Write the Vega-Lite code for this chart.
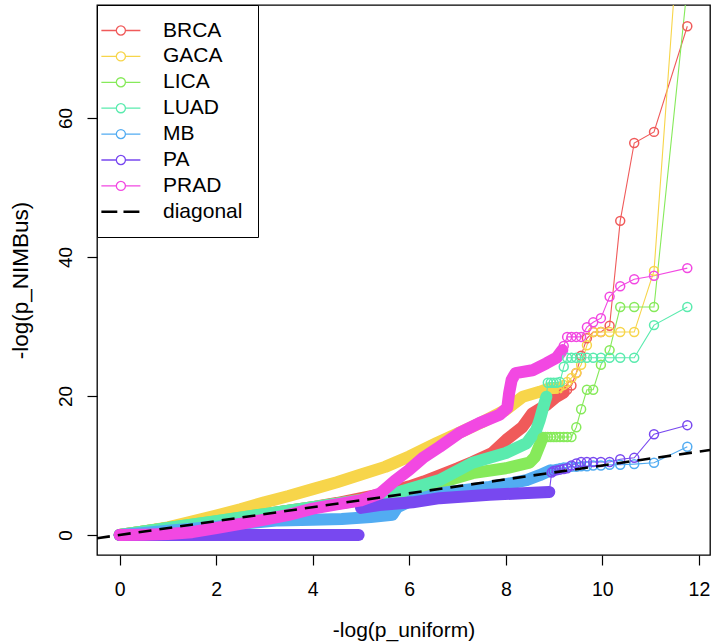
{
  "$schema": "https://vega.github.io/schema/vega-lite/v6.json",
  "width": 613,
  "height": 550,
  "autosize": {"type": "none"},
  "padding": {"left": 97, "top": 5, "right": 1, "bottom": 89},
  "background": "white",
  "config": {
    "font": "Liberation Sans",
    "view": {"stroke": "black", "strokeWidth": 1.3},
    "axis": {"grid": false, "domain": false, "tickColor": "black", "tickWidth": 1.2, "labelColor": "black", "titleColor": "black", "labelFont": "Liberation Sans", "titleFont": "Liberation Sans", "titleFontWeight": "normal", "labelFlush": false, "labelOverlap": false}
  },
  "datasets": {
    "band": [
      {"g": "BRCA", "run": 1, "x": 0, "y": 0}, {"g": "BRCA", "run": 1, "x": 0.5, "y": 0.5}, {"g": "BRCA", "run": 1, "x": 1, "y": 1}, {"g": "BRCA", "run": 1, "x": 1.5, "y": 1.5}, {"g": "BRCA", "run": 1, "x": 2, "y": 2}, {"g": "BRCA", "run": 1, "x": 2.5, "y": 2.5}, {"g": "BRCA", "run": 1, "x": 3, "y": 3}, {"g": "BRCA", "run": 1, "x": 3.5, "y": 3.5}, {"g": "BRCA", "run": 1, "x": 4, "y": 4}, {"g": "BRCA", "run": 1, "x": 4.5, "y": 4.6}, {"g": "BRCA", "run": 1, "x": 5, "y": 5.3}, {"g": "BRCA", "run": 1, "x": 5.5, "y": 6.0}, {"g": "BRCA", "run": 1, "x": 6, "y": 7.0}, {"g": "BRCA", "run": 1, "x": 6.3, "y": 7.7}, {"g": "BRCA", "run": 1, "x": 6.63, "y": 8.6}, {"g": "BRCA", "run": 1, "x": 7, "y": 9.6}, {"g": "BRCA", "run": 1, "x": 7.31, "y": 10.5}, {"g": "BRCA", "run": 1, "x": 7.72, "y": 11.8}, {"g": "BRCA", "run": 1, "x": 8.01, "y": 13.7}, {"g": "BRCA", "run": 1, "x": 8.34, "y": 15.5}, {"g": "BRCA", "run": 1, "x": 8.55, "y": 17.5}, {"g": "BRCA", "run": 1, "x": 8.84, "y": 18.7}, {"g": "BRCA", "run": 1, "x": 9.05, "y": 19.9}, {"g": "BRCA", "run": 1, "x": 9.2, "y": 20.5},
      {"g": "GACA", "run": 1, "x": 0, "y": 0}, {"g": "GACA", "run": 1, "x": 0.5, "y": 0.5}, {"g": "GACA", "run": 1, "x": 1, "y": 1.1}, {"g": "GACA", "run": 1, "x": 1.66, "y": 2.2}, {"g": "GACA", "run": 1, "x": 2, "y": 2.8}, {"g": "GACA", "run": 1, "x": 2.5, "y": 3.7}, {"g": "GACA", "run": 1, "x": 3, "y": 4.7}, {"g": "GACA", "run": 1, "x": 3.5, "y": 5.6}, {"g": "GACA", "run": 1, "x": 4, "y": 6.6}, {"g": "GACA", "run": 1, "x": 4.5, "y": 7.6}, {"g": "GACA", "run": 1, "x": 5, "y": 8.7}, {"g": "GACA", "run": 1, "x": 5.5, "y": 9.8}, {"g": "GACA", "run": 1, "x": 6, "y": 11.3}, {"g": "GACA", "run": 1, "x": 6.56, "y": 13.2}, {"g": "GACA", "run": 1, "x": 7, "y": 14.6}, {"g": "GACA", "run": 1, "x": 7.5, "y": 16.2}, {"g": "GACA", "run": 1, "x": 8, "y": 18.0}, {"g": "GACA", "run": 1, "x": 8.35, "y": 19.9}, {"g": "GACA", "run": 1, "x": 8.7, "y": 20.6}, {"g": "GACA", "run": 1, "x": 8.9, "y": 21.1}, {"g": "GACA", "run": 1, "x": 9.1, "y": 21.2},
      {"g": "LICA", "run": 1, "x": 0, "y": 0}, {"g": "LICA", "run": 1, "x": 1, "y": 1}, {"g": "LICA", "run": 1, "x": 2, "y": 2}, {"g": "LICA", "run": 1, "x": 3, "y": 3}, {"g": "LICA", "run": 1, "x": 4, "y": 4}, {"g": "LICA", "run": 1, "x": 4.5, "y": 4.5}, {"g": "LICA", "run": 1, "x": 5, "y": 5.1}, {"g": "LICA", "run": 1, "x": 5.5, "y": 5.7}, {"g": "LICA", "run": 1, "x": 6, "y": 6.5}, {"g": "LICA", "run": 1, "x": 6.63, "y": 7.5}, {"g": "LICA", "run": 1, "x": 7.31, "y": 8.9}, {"g": "LICA", "run": 1, "x": 8, "y": 9.6}, {"g": "LICA", "run": 1, "x": 8.49, "y": 10.4}, {"g": "LICA", "run": 1, "x": 8.6, "y": 11.2}, {"g": "LICA", "run": 1, "x": 8.7, "y": 12.9}, {"g": "LICA", "run": 1, "x": 8.76, "y": 14.0},
      {"g": "LUAD", "run": 1, "x": 0, "y": 0}, {"g": "LUAD", "run": 1, "x": 1, "y": 1}, {"g": "LUAD", "run": 1, "x": 2, "y": 2}, {"g": "LUAD", "run": 1, "x": 3, "y": 3}, {"g": "LUAD", "run": 1, "x": 4, "y": 4}, {"g": "LUAD", "run": 1, "x": 5, "y": 5}, {"g": "LUAD", "run": 1, "x": 5.6, "y": 5.8}, {"g": "LUAD", "run": 1, "x": 6, "y": 6.6}, {"g": "LUAD", "run": 1, "x": 6.63, "y": 7.9}, {"g": "LUAD", "run": 1, "x": 7.31, "y": 10.4}, {"g": "LUAD", "run": 1, "x": 8, "y": 11.8}, {"g": "LUAD", "run": 1, "x": 8.43, "y": 13.2}, {"g": "LUAD", "run": 1, "x": 8.63, "y": 15.1}, {"g": "LUAD", "run": 1, "x": 8.7, "y": 16.5}, {"g": "LUAD", "run": 1, "x": 8.76, "y": 18.0}, {"g": "LUAD", "run": 1, "x": 8.84, "y": 19.9},
      {"g": "MB", "run": 1, "x": 0, "y": 0}, {"g": "MB", "run": 1, "x": 0.5, "y": 0.3}, {"g": "MB", "run": 1, "x": 1, "y": 0.6}, {"g": "MB", "run": 1, "x": 1.5, "y": 0.9}, {"g": "MB", "run": 1, "x": 2, "y": 1.2}, {"g": "MB", "run": 1, "x": 2.5, "y": 1.6}, {"g": "MB", "run": 1, "x": 2.8, "y": 1.8}, {"g": "MB", "run": 1, "x": 3.3, "y": 2.1}, {"g": "MB", "run": 1, "x": 4, "y": 2.2}, {"g": "MB", "run": 1, "x": 4.6, "y": 2.3}, {"g": "MB", "run": 1, "x": 5.2, "y": 2.6}, {"g": "MB", "run": 1, "x": 5.65, "y": 2.9}, {"g": "MB", "run": 1, "x": 5.75, "y": 4.0}, {"g": "MB", "run": 1, "x": 6, "y": 4.8}, {"g": "MB", "run": 1, "x": 6.63, "y": 6.0}, {"g": "MB", "run": 1, "x": 7.2, "y": 6.5}, {"g": "MB", "run": 1, "x": 7.66, "y": 6.9}, {"g": "MB", "run": 1, "x": 8, "y": 7.3}, {"g": "MB", "run": 1, "x": 8.43, "y": 7.9}, {"g": "MB", "run": 1, "x": 8.7, "y": 8.6}, {"g": "MB", "run": 1, "x": 8.93, "y": 9.3},
      {"g": "PA", "run": 1, "x": 0, "y": 0}, {"g": "PA", "run": 1, "x": 1, "y": 0}, {"g": "PA", "run": 1, "x": 2, "y": 0}, {"g": "PA", "run": 1, "x": 3, "y": 0}, {"g": "PA", "run": 1, "x": 4, "y": 0}, {"g": "PA", "run": 1, "x": 4.95, "y": 0},
      {"g": "PA", "run": 2, "x": 5.0, "y": 3.9}, {"g": "PA", "run": 2, "x": 5.38, "y": 4.3}, {"g": "PA", "run": 2, "x": 6.07, "y": 4.7}, {"g": "PA", "run": 2, "x": 6.63, "y": 5.3}, {"g": "PA", "run": 2, "x": 7.66, "y": 5.8}, {"g": "PA", "run": 2, "x": 8.34, "y": 6.0}, {"g": "PA", "run": 2, "x": 8.9, "y": 6.2},
      {"g": "PRAD", "run": 1, "x": 0, "y": 0}, {"g": "PRAD", "run": 1, "x": 0.5, "y": 0.05}, {"g": "PRAD", "run": 1, "x": 1, "y": 0.15}, {"g": "PRAD", "run": 1, "x": 1.5, "y": 0.4}, {"g": "PRAD", "run": 1, "x": 2, "y": 1.0}, {"g": "PRAD", "run": 1, "x": 2.5, "y": 1.6}, {"g": "PRAD", "run": 1, "x": 3, "y": 2.2}, {"g": "PRAD", "run": 1, "x": 3.5, "y": 2.9}, {"g": "PRAD", "run": 1, "x": 4, "y": 3.8}, {"g": "PRAD", "run": 1, "x": 4.5, "y": 4.4}, {"g": "PRAD", "run": 1, "x": 5, "y": 5.0}, {"g": "PRAD", "run": 1, "x": 5.4, "y": 6.0}, {"g": "PRAD", "run": 1, "x": 5.7, "y": 7.8}, {"g": "PRAD", "run": 1, "x": 6, "y": 9.4}, {"g": "PRAD", "run": 1, "x": 6.3, "y": 11.2}, {"g": "PRAD", "run": 1, "x": 6.63, "y": 12.7}, {"g": "PRAD", "run": 1, "x": 7.04, "y": 14.7}, {"g": "PRAD", "run": 1, "x": 7.45, "y": 16.1}, {"g": "PRAD", "run": 1, "x": 7.87, "y": 17.3}, {"g": "PRAD", "run": 1, "x": 8.03, "y": 18.3}, {"g": "PRAD", "run": 1, "x": 8.07, "y": 20.5}, {"g": "PRAD", "run": 1, "x": 8.12, "y": 22.3}, {"g": "PRAD", "run": 1, "x": 8.2, "y": 23.3}, {"g": "PRAD", "run": 1, "x": 8.55, "y": 23.7}, {"g": "PRAD", "run": 1, "x": 8.84, "y": 24.7}, {"g": "PRAD", "run": 1, "x": 9.05, "y": 25.5}, {"g": "PRAD", "run": 1, "x": 9.17, "y": 26.6}
    ],
    "tail": [
      {"g": "BRCA", "x": 9.2, "y": 20.5}, {"g": "BRCA", "x": 9.27, "y": 20.9}, {"g": "BRCA", "x": 9.36, "y": 21.5}, {"g": "BRCA", "x": 9.46, "y": 23.3}, {"g": "BRCA", "x": 9.56, "y": 25.8}, {"g": "BRCA", "x": 9.68, "y": 28.3}, {"g": "BRCA", "x": 9.81, "y": 29.2}, {"g": "BRCA", "x": 9.97, "y": 29.2}, {"g": "BRCA", "x": 10.15, "y": 30.1}, {"g": "BRCA", "x": 10.37, "y": 45.2}, {"g": "BRCA", "x": 10.66, "y": 56.4}, {"g": "BRCA", "x": 11.07, "y": 58.0}, {"g": "BRCA", "x": 11.76, "y": 73.2},
      {"g": "GACA", "x": 9.1, "y": 21.2}, {"g": "GACA", "x": 9.2, "y": 21.6}, {"g": "GACA", "x": 9.27, "y": 22.0}, {"g": "GACA", "x": 9.36, "y": 22.6}, {"g": "GACA", "x": 9.46, "y": 23.3}, {"g": "GACA", "x": 9.56, "y": 24.5}, {"g": "GACA", "x": 9.68, "y": 27.3}, {"g": "GACA", "x": 9.81, "y": 29.2}, {"g": "GACA", "x": 9.97, "y": 29.2}, {"g": "GACA", "x": 10.15, "y": 29.2}, {"g": "GACA", "x": 10.37, "y": 29.2}, {"g": "GACA", "x": 10.66, "y": 29.2}, {"g": "GACA", "x": 11.07, "y": 38.0}, {"g": "GACA", "x": 11.76, "y": 104},
      {"g": "LICA", "x": 8.76, "y": 14.0}, {"g": "LICA", "x": 8.82, "y": 14.1}, {"g": "LICA", "x": 8.87, "y": 14.1}, {"g": "LICA", "x": 8.93, "y": 14.1}, {"g": "LICA", "x": 8.99, "y": 14.1}, {"g": "LICA", "x": 9.05, "y": 14.1}, {"g": "LICA", "x": 9.12, "y": 14.1}, {"g": "LICA", "x": 9.2, "y": 14.1}, {"g": "LICA", "x": 9.27, "y": 14.1}, {"g": "LICA", "x": 9.36, "y": 14.1}, {"g": "LICA", "x": 9.46, "y": 15.5}, {"g": "LICA", "x": 9.56, "y": 18.1}, {"g": "LICA", "x": 9.68, "y": 20.9}, {"g": "LICA", "x": 9.81, "y": 20.9}, {"g": "LICA", "x": 9.97, "y": 24.5}, {"g": "LICA", "x": 10.15, "y": 26.6}, {"g": "LICA", "x": 10.37, "y": 32.8}, {"g": "LICA", "x": 10.66, "y": 32.8}, {"g": "LICA", "x": 11.07, "y": 32.8}, {"g": "LICA", "x": 11.76, "y": 79},
      {"g": "LUAD", "x": 8.84, "y": 19.9}, {"g": "LUAD", "x": 8.87, "y": 21.9}, {"g": "LUAD", "x": 8.93, "y": 21.9}, {"g": "LUAD", "x": 8.99, "y": 21.9}, {"g": "LUAD", "x": 9.05, "y": 21.9}, {"g": "LUAD", "x": 9.12, "y": 22.0}, {"g": "LUAD", "x": 9.2, "y": 24.2}, {"g": "LUAD", "x": 9.27, "y": 25.5}, {"g": "LUAD", "x": 9.36, "y": 25.5}, {"g": "LUAD", "x": 9.46, "y": 25.5}, {"g": "LUAD", "x": 9.56, "y": 25.5}, {"g": "LUAD", "x": 9.68, "y": 25.5}, {"g": "LUAD", "x": 9.81, "y": 25.5}, {"g": "LUAD", "x": 9.97, "y": 25.5}, {"g": "LUAD", "x": 10.15, "y": 25.5}, {"g": "LUAD", "x": 10.37, "y": 25.5}, {"g": "LUAD", "x": 10.66, "y": 25.5}, {"g": "LUAD", "x": 11.07, "y": 30.2}, {"g": "LUAD", "x": 11.76, "y": 32.8},
      {"g": "MB", "x": 8.93, "y": 9.3}, {"g": "MB", "x": 8.99, "y": 9.4}, {"g": "MB", "x": 9.05, "y": 9.5}, {"g": "MB", "x": 9.12, "y": 9.6}, {"g": "MB", "x": 9.2, "y": 9.7}, {"g": "MB", "x": 9.27, "y": 9.7}, {"g": "MB", "x": 9.36, "y": 9.8}, {"g": "MB", "x": 9.46, "y": 9.8}, {"g": "MB", "x": 9.56, "y": 9.9}, {"g": "MB", "x": 9.68, "y": 9.9}, {"g": "MB", "x": 9.81, "y": 10.0}, {"g": "MB", "x": 9.97, "y": 10.0}, {"g": "MB", "x": 10.15, "y": 10.1}, {"g": "MB", "x": 10.37, "y": 10.1}, {"g": "MB", "x": 10.66, "y": 10.2}, {"g": "MB", "x": 11.07, "y": 10.4}, {"g": "MB", "x": 11.76, "y": 12.7},
      {"g": "PA", "x": 8.9, "y": 6.2}, {"g": "PA", "x": 8.95, "y": 9.0}, {"g": "PA", "x": 8.99, "y": 9.2}, {"g": "PA", "x": 9.05, "y": 9.3}, {"g": "PA", "x": 9.12, "y": 9.4}, {"g": "PA", "x": 9.2, "y": 9.5}, {"g": "PA", "x": 9.27, "y": 9.6}, {"g": "PA", "x": 9.36, "y": 10.0}, {"g": "PA", "x": 9.46, "y": 10.3}, {"g": "PA", "x": 9.56, "y": 10.5}, {"g": "PA", "x": 9.68, "y": 10.5}, {"g": "PA", "x": 9.81, "y": 10.5}, {"g": "PA", "x": 9.97, "y": 10.5}, {"g": "PA", "x": 10.15, "y": 10.5}, {"g": "PA", "x": 10.37, "y": 10.9}, {"g": "PA", "x": 10.66, "y": 11.1}, {"g": "PA", "x": 11.07, "y": 14.5}, {"g": "PA", "x": 11.76, "y": 15.8},
      {"g": "PRAD", "x": 9.17, "y": 26.6}, {"g": "PRAD", "x": 9.2, "y": 27.2}, {"g": "PRAD", "x": 9.27, "y": 28.5}, {"g": "PRAD", "x": 9.36, "y": 28.5}, {"g": "PRAD", "x": 9.46, "y": 28.5}, {"g": "PRAD", "x": 9.56, "y": 28.5}, {"g": "PRAD", "x": 9.68, "y": 29.9}, {"g": "PRAD", "x": 9.81, "y": 30.6}, {"g": "PRAD", "x": 9.97, "y": 31.2}, {"g": "PRAD", "x": 10.15, "y": 34.3}, {"g": "PRAD", "x": 10.37, "y": 35.8}, {"g": "PRAD", "x": 10.66, "y": 36.8}, {"g": "PRAD", "x": 11.07, "y": 37.3}, {"g": "PRAD", "x": 11.76, "y": 38.4}
    ],
    "diag": [
      {"g": "diagonal", "x": -0.47, "y": -0.47},
      {"g": "diagonal", "x": 12.23, "y": 12.23}
    ]
  },
  "encoding": {
    "x": {"field": "x", "type": "quantitative", "scale": {"domain": [-0.47, 12.23], "nice": false, "zero": false},
      "axis": {"values": [0, 2, 4, 6, 8, 10, 12], "tickSize": 10, "labelFontSize": 19.5, "labelPadding": 15, "titleFontSize": 21, "titlePadding": 21, "title": "-log(p_uniform)"}},
    "y": {"field": "y", "type": "quantitative", "scale": {"domain": [-2.88, 76.26], "nice": false, "zero": false},
      "axis": {"values": [0, 20, 40, 60], "tickSize": 10, "labelFontSize": 19, "labelAngle": 270, "labelAlign": "center", "labelBaseline": "alphabetic", "labelPadding": 16, "titleFontSize": 22.5, "titlePadding": 24, "title": "-log(p_NIMBus)"}},
    "color": {"field": "g", "type": "nominal",
      "scale": {"domain": ["BRCA", "GACA", "LICA", "LUAD", "MB", "PA", "PRAD", "diagonal"],
                "range": ["#F05A5A", "#F7D54A", "#86EA5A", "#5AEBAE", "#52ACF2", "#7848F0", "#F248E2", "#000000"]},
      "legend": {"orient": "none", "legendX": 0, "legendY": 0, "zindex": 5, "title": null, "strokeColor": "black", "fillColor": "white", "padding": 15, "rowPadding": 3.9,
        "labelFontSize": 21, "labelFont": "Liberation Sans", "labelColor": "black", "labelOffset": 30, "symbolSize": 169, "symbolStrokeWidth": 1.3, "symbolOpacity": 1, "symbolFillColor": "transparent",
        "encode": {"symbols": {"update": {
          "shape": {"signal": "datum.value === 'diagonal' ? 'M-3.25,0L-0.8,0M0.15,0L2.6,0' : 'M-3.25,0L-0.95,0M0.45,0L2.75,0M0.45,0A0.7,0.7,0,1,1,-0.95,0A0.7,0.7,0,1,1,0.45,0'"},
          "strokeWidth": {"signal": "datum.value === 'diagonal' ? 2.6 : 1.3"},
          "fill": {"value": "transparent"}}}}}}
  },
  "layer": [
    {"data": {"name": "band"}, "mark": {"type": "line", "strokeWidth": 12, "strokeCap": "round", "strokeJoin": "round", "clip": true},
     "encoding": {"detail": {"field": "run"}}},
    {"data": {"name": "tail"}, "mark": {"type": "line", "strokeWidth": 1.1, "clip": true}},
    {"data": {"name": "tail"}, "mark": {"type": "point", "shape": "circle", "filled": false, "size": 80, "strokeWidth": 1.5, "opacity": 1, "clip": true}},
    {"data": {"name": "diag"}, "mark": {"type": "line", "strokeWidth": 2.6, "strokeDash": [13, 8], "clip": true}}
  ]
}
